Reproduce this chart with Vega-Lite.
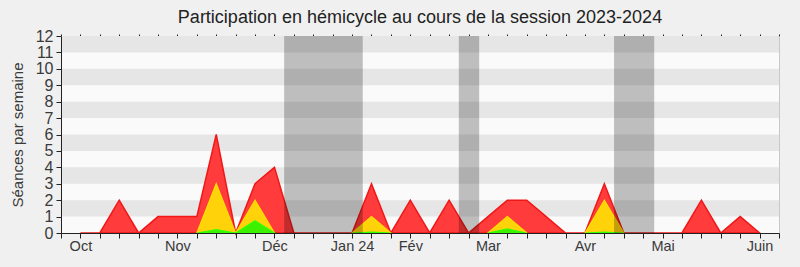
{
  "$schema": "https://vega.github.io/schema/vega-lite/v6.json",
  "width": 718,
  "height": 197,
  "autosize": "none",
  "padding": {"left": 61, "top": 36, "right": 21, "bottom": 34},
  "background": "#f0f0f0",
  "view": {"fill": "#fafafa", "stroke": null},
  "config": {"font": "Liberation Sans"},
  "title": {
    "text": "Participation en hémicycle au cours de la session 2023-2024",
    "fontSize": 18,
    "fontWeight": "normal",
    "color": "#222222",
    "anchor": "middle",
    "frame": "group",
    "offset": 1
  },
  "datasets": {
    "bandes": [
      {"bas": 1, "haut": 2},
      {"bas": 3, "haut": 4},
      {"bas": 5, "haut": 6},
      {"bas": 7, "haut": 8},
      {"bas": 9, "haut": 10},
      {"bas": 11, "haut": 12}
    ],
    "vacances": [
      {"debut": 11.5, "fin": 15.55},
      {"debut": 20.5, "fin": 21.55},
      {"debut": 28.5, "fin": 30.57}
    ],
    "semaines": [
      {"semaine": 1, "total": 0, "jaune": null, "vert": null},
      {"semaine": 2, "total": 0, "jaune": null, "vert": null},
      {"semaine": 3, "total": 2, "jaune": null, "vert": null},
      {"semaine": 4, "total": 0, "jaune": null, "vert": null},
      {"semaine": 5, "total": 1, "jaune": null, "vert": null},
      {"semaine": 6, "total": 1, "jaune": null, "vert": null},
      {"semaine": 7, "total": 1, "jaune": 0, "vert": 0},
      {"semaine": 8, "total": 6, "jaune": 3, "vert": 0.2},
      {"semaine": 9, "total": 0, "jaune": 0, "vert": 0},
      {"semaine": 10, "total": 3, "jaune": 2, "vert": 0.75},
      {"semaine": 11, "total": 4, "jaune": 0, "vert": 0},
      {"semaine": 12, "total": 0, "jaune": null, "vert": null},
      {"semaine": 13, "total": 0, "jaune": null, "vert": null},
      {"semaine": 14, "total": 0, "jaune": null, "vert": null},
      {"semaine": 15, "total": 0, "jaune": 0, "vert": 0},
      {"semaine": 16, "total": 3, "jaune": 1, "vert": 0.05},
      {"semaine": 17, "total": 0, "jaune": 0, "vert": 0},
      {"semaine": 18, "total": 2, "jaune": null, "vert": null},
      {"semaine": 19, "total": 0, "jaune": null, "vert": null},
      {"semaine": 20, "total": 2, "jaune": null, "vert": null},
      {"semaine": 21, "total": 0, "jaune": null, "vert": null},
      {"semaine": 22, "total": 1, "jaune": 0, "vert": 0},
      {"semaine": 23, "total": 2, "jaune": 1, "vert": 0.25},
      {"semaine": 24, "total": 2, "jaune": 0, "vert": 0},
      {"semaine": 25, "total": 1, "jaune": null, "vert": null},
      {"semaine": 26, "total": 0, "jaune": null, "vert": null},
      {"semaine": 27, "total": 0, "jaune": 0, "vert": 0},
      {"semaine": 28, "total": 3, "jaune": 2, "vert": 0.05},
      {"semaine": 29, "total": 0, "jaune": 0, "vert": 0},
      {"semaine": 30, "total": 0, "jaune": null, "vert": null},
      {"semaine": 31, "total": 0, "jaune": null, "vert": null},
      {"semaine": 32, "total": 0, "jaune": null, "vert": null},
      {"semaine": 33, "total": 2, "jaune": null, "vert": null},
      {"semaine": 34, "total": 0, "jaune": null, "vert": null},
      {"semaine": 35, "total": 1, "jaune": null, "vert": null},
      {"semaine": 36, "total": 0, "jaune": null, "vert": null}
    ]
  },
  "layer": [
    {
      "data": {"name": "bandes"},
      "mark": {"type": "rect", "fill": "#e6e6e6"},
      "encoding": {
        "y": {"field": "bas", "type": "quantitative", "scale": {"domain": [0, 12], "nice": false, "zero": true}, "axis": null},
        "y2": {"field": "haut"}
      }
    },
    {
      "data": {"name": "semaines"},
      "mark": {"type": "area", "fill": "#ff3b3b", "stroke": "#f01818", "strokeWidth": 1.5, "opacity": 1},
      "encoding": {
        "x": {
          "field": "semaine", "type": "quantitative",
          "scale": {"domain": [0, 37], "nice": false, "zero": false},
          "axis": {
            "orient": "bottom",
            "title": null,
            "values": [0,1,2,3,4,5,6,7,8,9,10,11,12,13,14,15,16,17,18,19,20,21,22,23,24,25,26,27,28,29,30,31,32,33,34,35,36,37],
            "labelExpr": "datum.value == 1 ? 'Oct' : datum.value == 6 ? 'Nov' : datum.value == 11 ? 'Déc' : datum.value == 15 ? 'Jan 24' : datum.value == 18 ? 'Fév' : datum.value == 22 ? 'Mar' : datum.value == 27 ? 'Avr' : datum.value == 31 ? 'Mai' : datum.value == 36 ? 'Juin' : ''",
            "labelOverlap": false,
            "labelBound": false,
            "labelFlush": false,
            "labelFontSize": 14.5,
            "labelColor": "#3a3a3a",
            "labelPadding": 1,
            "tickSize": 5,
            "tickColor": "#222222",
            "domainColor": "#222222",
            "grid": false,
            "zindex": 1
          }
        },
        "y": {
          "field": "total", "type": "quantitative",
          "axis": {
            "orient": "left",
            "title": "Séances par semaine",
            "titleFontSize": 15,
            "titleFontWeight": "normal",
            "titleColor": "#3a3a3a",
            "titlePadding": 10,
            "values": [0,1,2,3,4,5,6,7,8,9,10,11,12],
            "labelFontSize": 16,
            "labelColor": "#3a3a3a",
            "labelPadding": 3,
            "labelOverlap": false,
            "labelBound": false,
            "labelFlush": false,
            "tickSize": 5,
            "tickColor": "#222222",
            "domainColor": "#222222",
            "grid": false,
            "zindex": 1
          }
        }
      }
    },
    {
      "data": {"name": "semaines"},
      "mark": {"type": "area", "fill": "#ffd20a", "stroke": "#ffe000", "strokeWidth": 1.2},
      "encoding": {
        "x": {
          "field": "semaine", "type": "quantitative",
          "axis": {
            "orient": "top",
            "title": null,
            "values": [0,1,2,3,4,5,6,7,8,9,10,11,12,13,14,15,16,17,18,19,20,21,22,23,24,25,26,27,28,29,30,31,32,33,34,35,36,37],
            "labels": false,
            "domain": false,
            "tickSize": 2,
            "tickColor": "#222222",
            "grid": false
          }
        },
        "y": {
          "field": "jaune", "type": "quantitative",
          "axis": {
            "orient": "right",
            "title": null,
            "labels": false,
            "ticks": false,
            "domainColor": "#c8c8c8",
            "grid": false
          }
        }
      }
    },
    {
      "data": {"name": "semaines"},
      "mark": {"type": "area", "fill": "#3cf000", "stroke": "#33ff00", "strokeWidth": 1.2},
      "encoding": {
        "x": {"field": "semaine", "type": "quantitative", "axis": null},
        "y": {"field": "vert", "type": "quantitative", "axis": null}
      }
    },
    {
      "data": {"name": "vacances"},
      "mark": {"type": "rect", "fill": "#000000", "fillOpacity": 0.24},
      "encoding": {
        "x": {"field": "debut", "type": "quantitative", "axis": null},
        "x2": {"field": "fin"}
      }
    }
  ],
  "resolve": {"axis": {"x": "independent", "y": "independent"}}
}
